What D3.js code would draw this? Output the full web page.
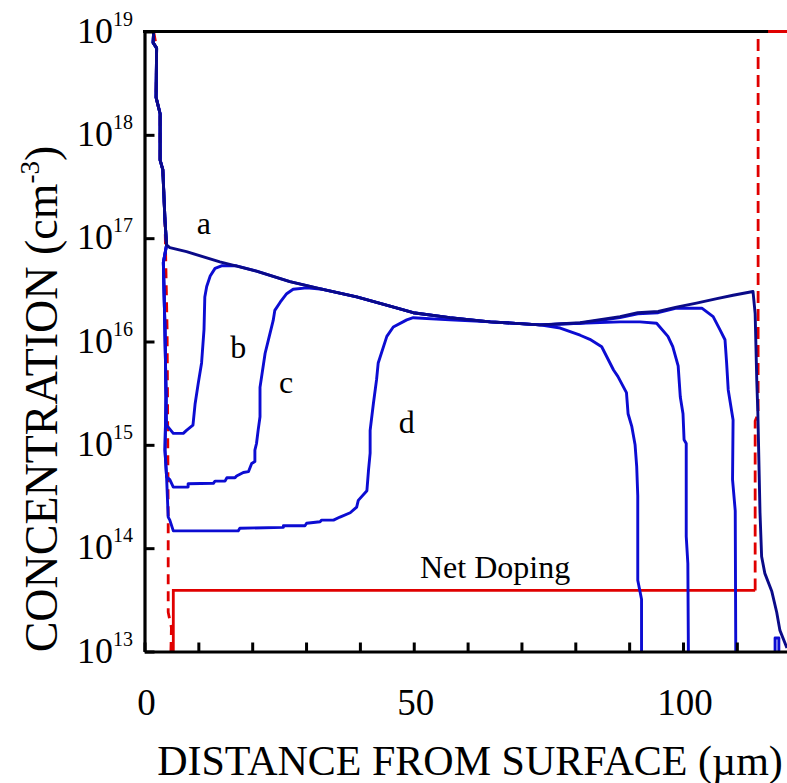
<!DOCTYPE html>
<html>
<head>
<meta charset="utf-8">
<script src="https://cdn.jsdelivr.net/npm/d3@7"></script>
<style>
  body { margin: 0; background: #fff; }
  text { font-family: "Liberation Serif", "Times New Roman", serif; fill: #000; }
</style>
</head>
<body>
<div class="article"></div>
<script>
// Concentration profiles vs depth (um, cm^-3)

// steep surface part shared by every profile
var surfaceDescent = [[1.7, 1e19], [1.6, 7.8e18], [2.25, 6.9e18], [2.15, 2.3e18], [2.9, 1.6e18],
  [2.9, 5.7e17], [3.4, 4.6e17], [3.8, 1.5e17], [4.1, 8.6e16]];

// upper plateau shared by a, b, c
var plateauTop = [[20.8, 4.8e16], [27.0, 3.8e16], [33.1, 3.2e16], [39.4, 2.7e16], [45.6, 2.2e16],
  [49.9, 1.9e16], [56.7, 1.7e16], [64.2, 1.55e16], [73.4, 1.45e16]];

var profileA = surfaceDescent.concat(
  [[4.7, 8.1e16], [7.8, 7.4e16], [14.0, 5.9e16]],
  plateauTop,
  [[80.9, 1.52e16], [88.3, 1.74e16], [91.6, 1.9e16], [95.4, 1.95e16], [98.8, 2.15e16],
   [102.5, 2.35e16], [106.3, 2.6e16], [109.3, 2.8e16], [113.0, 3.05e16], [113.4, 1.85e16],
   [113.7, 4.2e15], [113.9, 2.05e15], [114.3, 2.2e14], [114.6, 8.3e13], [115.2, 5.7e13],
   [116.5, 3.8e13], [117.4, 2.4e13], [118.0, 1.6e13], [119.3, 1.08e13]]);

var profileB = surfaceDescent.concat(
  [[3.5, 5.8e16], [3.8, 1.3e16], [4.0, 2.9e15], [4.1, 1.55e15], [5.35, 1.29e15], [7.2, 1.29e15],
   [7.8, 1.38e15], [9.0, 1.55e15], [9.4, 2.5e15], [10.0, 4.0e15], [10.6, 6.2e15], [11.05, 1.3e16],
   [11.2, 2.7e16], [11.55, 3.4e16], [12.2, 4.3e16], [13.1, 5.1e16], [14.3, 5.4e16], [17.1, 5.4e16]],
  plateauTop,
  [[80.9, 1.5e16], [88.3, 1.7e16], [91.6, 1.85e16], [95.4, 1.9e16], [98.8, 2.1e16],
   [103.5, 2.1e16], [105.6, 1.74e16], [106.9, 1.29e16], [107.8, 1.04e16], [108.1, 6.2e15],
   [108.4, 3.4e15], [109.3, 1.74e15], [109.2, 4.6e14], [109.7, 2.3e14], [109.8, 1e13]]);

var profileC = surfaceDescent.concat(
  [[3.5, 5.8e16], [3.8, 1.3e16], [4.0, 2.9e15], [3.8, 8.9e14], [4.1, 4.9e14], [4.7, 4.6e14],
   [5.35, 3.9e14], [8.1, 3.9e14], [8.1, 4.2e14], [12.8, 4.25e14], [13.1, 4.45e14], [14.95, 4.45e14],
   [15.3, 4.8e14], [16.8, 4.8e14], [17.1, 5.0e14], [18.35, 5.4e14], [19.3, 5.5e14], [19.9, 6.6e14],
   [20.5, 6.9e14], [20.5, 8.9e14], [20.8, 1.03e15], [21.1, 1.38e15], [21.45, 1.87e15],
   [21.45, 3.6e15], [22.4, 7.7e15], [23.0, 1.03e16], [23.9, 1.6e16], [24.2, 2.0e16], [25.2, 2.4e16],
   [26.4, 2.9e16], [27.6, 3.2e16], [30.1, 3.3e16]],
  plateauTop.slice(2),
  [[80.9, 1.5e16], [88.3, 1.55e16], [92.0, 1.55e16], [95.1, 1.5e16], [97.2, 1.12e16],
   [98.1, 8.9e15], [99.1, 5.8e15], [99.5, 2.9e15], [100.0, 2.0e15], [100.2, 1.12e15],
   [100.6, 1.03e15], [100.6, 1.3e14], [100.9, 7.1e13], [101.0, 1e13]]);

var profileD = surfaceDescent.concat(
  [[3.5, 5.8e16], [3.8, 1.3e16], [4.0, 2.9e15], [3.8, 8.9e14], [4.1, 4.9e14], [4.4, 2.0e14],
   [4.7, 1.87e14], [5.35, 1.47e14], [17.4, 1.47e14], [17.7, 1.56e14], [25.8, 1.59e14],
   [25.8, 1.65e14], [29.8, 1.65e14], [30.1, 1.74e14], [32.6, 1.8e14], [32.9, 1.87e14],
   [35.1, 1.87e14], [36.3, 2.0e14], [38.2, 2.2e14], [39.4, 2.5e14], [39.7, 2.9e14], [41.3, 3.6e14],
   [41.6, 5.7e14], [41.9, 8.3e14], [41.9, 1.38e15], [42.5, 2.5e15], [43.1, 4.3e15], [43.4, 6.2e15],
   [45.0, 1.12e16], [46.2, 1.38e16], [48.7, 1.62e16], [49.9, 1.7e16], [56.7, 1.62e16],
   [64.2, 1.55e16], [73.4, 1.45e16], [77.2, 1.35e16], [80.9, 1.15e16], [82.7, 1.05e16],
   [84.9, 8.9e15], [87.1, 5.3e15], [87.9, 4.6e15], [89.5, 3.2e15], [89.8, 2.0e15], [90.5, 1.5e15],
   [91.1, 1.0e15], [91.4, 6.2e14], [91.6, 3.2e14], [91.6, 4.9e13], [92.3, 3.2e13], [92.3, 1e13]]);

var profileTail = [[117.1, 1e13], [117.1, 1.35e13], [117.8, 1.35e13], [117.8, 1e13]];

// net doping: dashed where it is p-type, solid where n-type
var dopingDashedLeft = [[1.7, 1e19], [2.25, 6.9e18], [2.15, 2.3e18], [2.9, 1.6e18], [2.9, 5.7e17],
  [3.4, 4.6e17], [3.8, 1.5e17], [4.2, 1.3e16], [4.3, 1.9e15], [4.4, 2.0e14], [4.4, 2.4e13],
  [5.0, 1.7e13], [4.9, 1e13]];
var dopingSolid = [[5.35, 1e13], [5.35, 3.9e13], [113.4, 3.9e13]];
var dopingDashedRight = [[113.4, 3.9e13], [113.4, 1.7e15], [113.95, 2.0e15], [113.95, 1e19]];
var dopingSolidTop = [[115.8, 1e19], [120, 1e19]];

var yTickExponents = [13, 14, 15, 16, 17, 18, 19];
var xTicks = [0, 10, 20, 30, 40, 50, 60, 70, 80, 90, 100, 110];
var xTickLabels = [0, 50, 100];

var curveLabels = [["a", 11.0, 1.1e17], ["b", 17.4, 7.0e15], ["c", 26.3, 3.2e15], ["d", 48.7, 1.3e15]];

var svgWidth = 787;
var svgHeight = 783;

var svg = d3.select(".article")
  .append("svg")
  .attr("width", svgWidth)
  .attr("height", svgHeight);

var x = d3.scaleLinear().domain([0, 120]).range([144.5, 144.5 + 120 * 5.385]);
var y = d3.scaleLog().domain([1e13, 1e19]).range([651.5, 31.5]);

var line = d3.line()
  .x(d => x(d[0]))
  .y(d => y(d[1]));

// net doping first so the profiles sit on top
svg.append("path").datum(dopingDashedLeft)
  .attr("d", line).attr("fill", "none").attr("stroke", "#e00000")
  .attr("stroke-width", 2.8).attr("stroke-dasharray", "10,7");
svg.append("path").datum(dopingDashedRight)
  .attr("d", line).attr("fill", "none").attr("stroke", "#e00000")
  .attr("stroke-width", 2.8).attr("stroke-dasharray", "12,6");
svg.append("path").datum(dopingSolid)
  .attr("d", line).attr("fill", "none").attr("stroke", "#e00000")
  .attr("stroke-width", 2.8);

var blues = [[profileD, "#0c0cd2"], [profileC, "#0c0cd2"], [profileB, "#0c0cd2"],
  [profileTail, "#0c0cd2"], [profileA, "#0a0a88"]];
blues.forEach(function(p) {
  svg.append("path").datum(p[0])
    .attr("d", line).attr("fill", "none").attr("stroke", p[1])
    .attr("stroke-width", 2.9).attr("stroke-linejoin", "round");
});

// axes
var yAxis = d3.axisLeft(y)
  .tickValues(yTickExponents.map(e => Math.pow(10, e)))
  .tickSizeInner(-10).tickSizeOuter(0).tickFormat("");
var gy = svg.append("g").attr("transform", "translate(144.5,0)").call(yAxis);

var xAxis = d3.axisBottom(x)
  .tickValues(xTicks).tickSizeInner(-9).tickSizeOuter(0).tickFormat("");
var gx = svg.append("g").attr("transform", "translate(0,651.5)").call(xAxis);

[gx, gy].forEach(function(g) {
  g.select(".domain").attr("stroke", "#000").attr("stroke-width", 3.2);
  g.selectAll(".tick line").attr("stroke", "#000").attr("stroke-width", 3);
});

// top frame
svg.append("line")
  .attr("x1", 143).attr("x2", svgWidth).attr("y1", 31.5).attr("y2", 31.5)
  .attr("stroke", "#000").attr("stroke-width", 3.2);

svg.append("path").datum(dopingSolidTop)
  .attr("d", line).attr("fill", "none").attr("stroke", "#e00000")
  .attr("stroke-width", 3);

// tick labels
yTickExponents.forEach(function(e) {
  var t = svg.append("text")
    .attr("x", 133).attr("y", y(Math.pow(10, e)) + 11)
    .attr("text-anchor", "end");
  t.append("tspan").attr("font-size", 36).text("10");
  t.append("tspan").attr("font-size", 20).attr("dy", -17).text(e);
});

xTickLabels.forEach(function(v) {
  svg.append("text")
    .attr("x", x(v) + 2).attr("y", 715)
    .attr("text-anchor", "middle").attr("font-size", 37)
    .text(v);
});

// curve labels
curveLabels.forEach(function(l) {
  svg.append("text")
    .attr("x", x(l[1])).attr("y", y(l[2]))
    .attr("text-anchor", "middle").attr("font-size", 32)
    .text(l[0]);
});

svg.append("text")
  .attr("x", 420).attr("y", 578).attr("font-size", 32)
  .text("Net Doping");

// axis titles
var yt = svg.append("text")
  .attr("transform", "translate(57,399) rotate(-90)")
  .attr("text-anchor", "middle").attr("font-size", 46);
yt.append("tspan").text("CONCENTRATION (cm");
yt.append("tspan").attr("font-size", 27).attr("dy", -18).text("-3");
yt.append("tspan").attr("dy", 18).text(")");

svg.append("text")
  .attr("x", 470).attr("y", 775)
  .attr("text-anchor", "middle").attr("font-size", 42)
  .text("DISTANCE FROM SURFACE (\u00b5m)");
</script>
</body>
</html>
